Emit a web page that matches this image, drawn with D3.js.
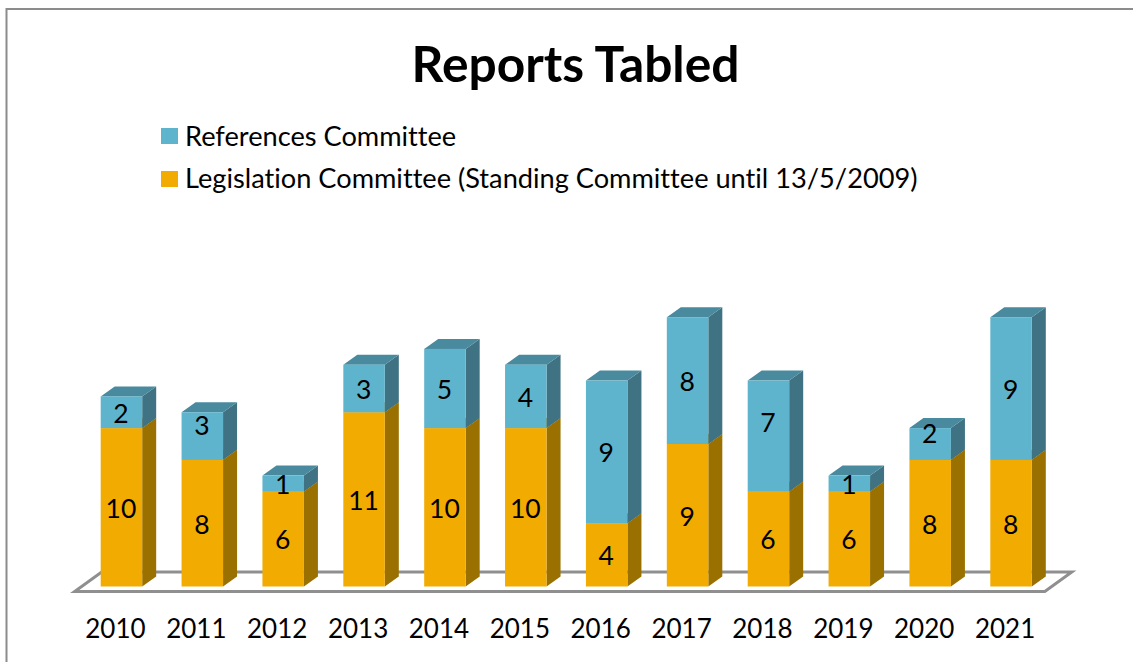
<!DOCTYPE html>
<html><head><meta charset="utf-8">
<script src="https://cdn.jsdelivr.net/npm/d3@7"></script>
<style>html,body{margin:0;padding:0;background:#fff;overflow:hidden}svg{display:block}text{font-family:Lato,"Open Sans",sans-serif;fill:#000;font-variant-ligatures:none}</style>
</head><body><svg id="c" width="1133" height="662"></svg>
<script>
const years = ["2010","2011","2012","2013","2014","2015","2016","2017","2018","2019","2020","2021"];
const legislation = [10,8,6,11,10,10,4,9,6,6,8,8];
const references = [2,3,1,3,5,4,9,8,7,1,2,9];
const seriesNames = ["References Committee","Legislation Committee (Standing Committee until 13/5/2009)"];
const title = "Reports Tabled";
const colors = {
  leg:{front:"#f2ab00",side:"#9a7000",top:"#b08000"},
  ref:{front:"#5fb4cd",side:"#3f7282",top:"#4a8a9e"}
};
const svg = d3.select("#c");
const W=1133,H=662,depthX=14,depthY=10,baseY=586.5;
const x = d3.scaleBand().domain(years).range([81,1051.5]).paddingInner(0.487).paddingOuter(0.2435);
const y = d3.scaleLinear().domain([0,17]).range([baseY,317.2]);
const bw = x.bandwidth();

// frame
svg.append("path").attr("d",`M6.5,${H}V9H${W}`).attr("fill","none").attr("stroke","#8c8c8c").attr("stroke-width",2);

// floor
const x0=x(years[0]), x1=x(years[11])+bw;
svg.append("path")
  .attr("d",`M${x0-26},591.5H${x1+13}L${x1+40},572H${x0+1}Z`)
  .attr("fill","#fff").attr("stroke","#8f8f8f").attr("stroke-width",3);

// stacked 3D bars
const stack = d3.stack().keys(["leg","ref"])(years.map((yr,i)=>({yr,leg:legislation[i],ref:references[i]})));
stack.forEach(layer=>{
  const c=colors[layer.key];
  const g=svg.append("g").attr("class","series-"+layer.key);
  layer.forEach(d=>{
    const l=x(d.data.yr), r=l+bw, t=y(d[1]), b=y(d[0]);
    g.append("path").attr("fill",c.side)
      .attr("d",`M${r},${t}L${r+depthX},${t-depthY}V${b-depthY}L${r},${b}Z`);
    g.append("path").attr("fill",c.top)
      .attr("d",`M${l},${t}L${l+depthX},${t-depthY}H${r+depthX}L${r},${t}Z`);
    g.append("rect").attr("x",l).attr("y",t).attr("width",bw).attr("height",b-t).attr("fill",c.front);
  });
});

// data labels
const labelNudge={ref:{"2011":-12,"2018":-15,"2020":-11},leg:{}};
stack.forEach(layer=>{
  layer.forEach(d=>{
    const n=(labelNudge[layer.key][d.data.yr]||0);
    svg.append("text").attr("x",x(d.data.yr)+bw/2-0.5).attr("y",(y(d[0])+y(d[1]))/2+n+0.5)
      .attr("text-anchor","middle").attr("dominant-baseline","central")
      .attr("font-size",26.5).text(d[1]-d[0]);
  });
});

// axis
const ax=d3.axisBottom(x).tickSize(0).tickPadding(0);
const axG=svg.append("g").attr("transform","translate(-6,620)").call(ax);
axG.select(".domain").remove();
axG.selectAll("text").attr("font-size",26).attr("font-family",'Lato,"Open Sans",sans-serif').attr("fill","#000");

// title
svg.append("text").attr("x",575.5).attr("y",81.5).attr("text-anchor","middle")
  .attr("font-size",49.7).attr("font-weight",700).text(title);

// legend
[colors.ref.front,colors.leg.front].forEach((col,i)=>{
  const ly=128+i*43;
  svg.append("rect").attr("x",161).attr("y",ly).attr("width",17).attr("height",16).attr("fill",col);
  svg.append("text").attr("x",185).attr("y",ly+17+(i===0?0.7:0)).attr("font-size",27.2).text(seriesNames[i]);
});
</script></body></html>
